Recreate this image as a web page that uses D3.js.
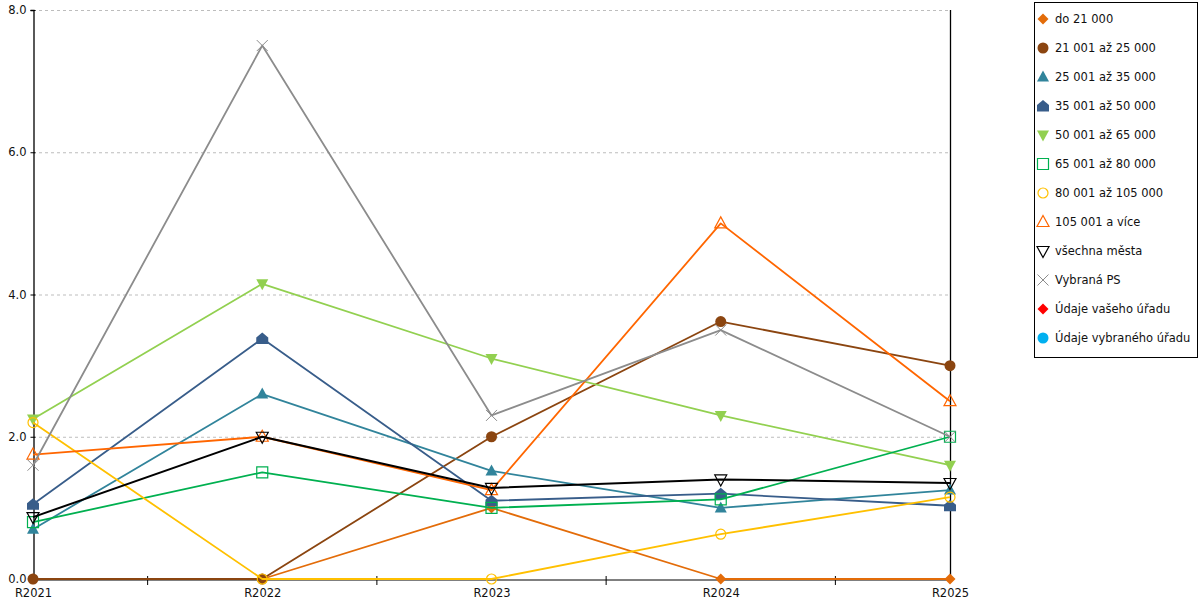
<!DOCTYPE html>
<html><head><meta charset="utf-8">
<script src="https://cdn.jsdelivr.net/npm/d3@7"></script>
<style>body{margin:0;background:#fff}svg{display:block}text{font-family:"DejaVu Sans",Verdana,sans-serif;font-size:11.5px;fill:#111}</style>
</head><body><svg id="c" width="1200" height="600"></svg>
<script>
const categories = ["R2021","R2022","R2023","R2024","R2025"];
const yTicks = [0,2,4,6,8];
const seriesNames = ["do 21 000","21 001 až 25 000","25 001 až 35 000","35 001 až 50 000","50 001 až 65 000","65 001 až 80 000","80 001 až 105 000","105 001 a více","všechna města","Vybraná PS","Údaje vašeho úřadu","Údaje vybraného úřadu"];
const s1 = [0,0,1.0,0,0];
const s2 = [0,0,2.0,3.62,3.0];
const s3 = [0.7,2.6,1.52,1.0,1.25];
const s4 = [1.05,3.38,1.1,1.2,1.03];
const s5 = [2.25,4.15,3.1,2.3,1.6];
const s6 = [0.8,1.5,1.0,1.12,2.0];
const s7 = [2.2,0,0,0.63,1.15];
const s8 = [1.75,2.0,1.25,5.0,2.5];
const s9 = [0.87,2.0,1.28,1.4,1.35];
const s10 = [1.6,7.5,2.3,3.5,2.0];
const s11 = [];
const s12 = [];
const seriesValues = [s1,s2,s3,s4,s5,s6,s7,s8,s9,s10,s11,s12];
const colors = ["#E36C09","#8B4510","#31849B","#385D8A","#92D050","#00B050","#FFC000","#FF6600","#000000","#8C8C8C","#FF0000","#00B0F0"];
const shapes = ["diamond","circle","tri","house","tridown","squareOpen","circleOpen","triOpen","tridownOpen","x","diamond","circle"];

const svg = d3.select("#c");
const pL=33, pR=950, pT=10, pB=579;
const x = d3.scalePoint().domain(categories).range([pL,pR]);
const y = d3.scaleLinear().domain([0,8]).range([pB,pT]);

// grid
svg.append("g").selectAll("line").data(yTicks.filter(d=>d>0)).join("line")
  .attr("x1",pL).attr("x2",pR).attr("y1",d=>y(d)+0.5).attr("y2",d=>y(d)+0.5)
  .attr("stroke","#bdbdbd").attr("stroke-dasharray","3,3").attr("stroke-width",1);

// right border
svg.append("line").attr("x1",pR+0.5).attr("x2",pR+0.5).attr("y1",pT).attr("y2",pB).attr("stroke","#000").attr("stroke-width",1.3);

// y axis
const ya = svg.append("g").attr("transform",`translate(${pL+0.5},0)`)
  .call(d3.axisLeft(y).tickValues(yTicks).tickFormat(d3.format(".1f")).tickSize(3).tickPadding(4));
ya.select(".domain").attr("stroke","#000").attr("stroke-width",1.3);
ya.selectAll(".tick line").attr("x2",-3).attr("x1",2).attr("stroke","#000");
ya.selectAll("text").attr("font-size","11.5px").attr("font-family","DejaVu Sans").attr("fill","#111");

// x axis
const xa = svg.append("g").attr("transform",`translate(0,${pB+0.5})`)
  .call(d3.axisBottom(x).tickSize(0).tickPadding(9));
xa.select(".domain").attr("stroke","#000").attr("stroke-width",1);
xa.selectAll("text").attr("font-size","11.5px").attr("font-family","DejaVu Sans").attr("fill","#111");
const mids = d3.pairs(categories).map(p=>(x(p[0])+x(p[1]))/2);
svg.append("g").selectAll("line").data(mids).join("line")
  .attr("x1",d=>d).attr("x2",d=>d).attr("y1",pB-3).attr("y2",pB+6).attr("stroke","#000");

function markerPath(shape){
  switch(shape){
    case "diamond": return "M0,-5.5L5.5,0L0,5.5L-5.5,0Z";
    case "tri": case "triOpen": return "M0,-6.5L6,4.5L-6,4.5Z";
    case "tridown": case "tridownOpen": return "M0,6.5L6,-4.5L-6,-4.5Z";
    case "house": return "M0,-6L6,-1L6,5.5L-6,5.5L-6,-1Z";
    case "squareOpen": return "M-5.5,-5.5H5.5V5.5H-5.5Z";
    case "x": return "M-5.5,-5.5L5.5,5.5M5.5,-5.5L-5.5,5.5";
    default: return null;
  }
}
function drawMarker(g, shape, color, cx, cy){
  const open = /Open/.test(shape);
  if(shape==="circle"){
    g.append("circle").attr("cx",cx).attr("cy",cy).attr("r",5.5).attr("fill",color);
    return;
  }
  if(shape==="circleOpen"){
    g.append("circle").attr("cx",cx).attr("cy",cy).attr("r",5).attr("fill","none").attr("stroke",color).attr("stroke-width",1.2);
    return;
  }
  const p = g.append("path").attr("d",markerPath(shape)).attr("transform",`translate(${cx},${cy})`);
  if(shape==="x") p.attr("fill","none").attr("stroke",color).attr("stroke-width",1);
  else if(open) p.attr("fill","none").attr("stroke",color).attr("stroke-width",1.2);
  else p.attr("fill",color);
}

const line = d3.line().x((d,i)=>x(categories[i])).y(d=>y(d));
const plot = svg.append("g");
seriesValues.forEach((vals,si)=>{
  if(!vals.length) return;
  const g = plot.append("g");
  g.append("path").datum(vals).attr("d",line).attr("fill","none")
    .attr("stroke",colors[si]).attr("stroke-width",si===8?2:1.8).attr("stroke-linejoin","round");
  vals.forEach((v,i)=>drawMarker(g,shapes[si],colors[si],x(categories[i]),y(v)));
});

// legend
const lg = svg.append("g");
lg.append("rect").attr("x",1034.5).attr("y",2.5).attr("width",163).attr("height",355)
  .attr("fill","#fff").attr("stroke","#000").attr("stroke-width",1);
seriesNames.forEach((n,i)=>{
  const cy = 19 + i*29;
  drawMarker(lg, shapes[i], colors[i], 1043, cy);
  lg.append("text").attr("x",1055).attr("y",cy).attr("dy","0.35em").text(n)
    .attr("font-size","11.5px").attr("font-family","DejaVu Sans").attr("fill","#111");
});
</script></body></html>
